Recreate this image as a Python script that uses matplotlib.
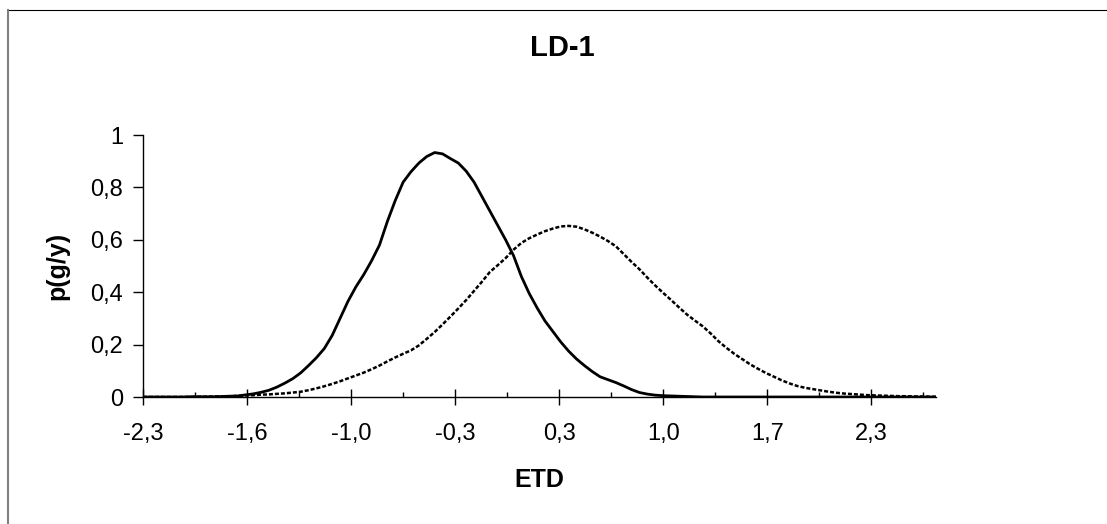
import numpy as np
import matplotlib.pyplot as plt
from matplotlib.lines import Line2D

plt.rcParams['font.family'] = ['Liberation Sans', 'DejaVu Sans']

# ETD grid and the two group densities p(g/y)
etd = [-2.30, -2.25, -2.20, -2.15, -2.10, -2.05, -2.00, -1.95, -1.90, -1.85,
       -1.80, -1.75, -1.70, -1.65, -1.60, -1.55, -1.50, -1.45, -1.40, -1.35,
       -1.30, -1.25, -1.20, -1.15, -1.10, -1.05, -1.00, -0.95, -0.90, -0.85,
       -0.80, -0.75, -0.70, -0.65, -0.60, -0.55, -0.50, -0.45, -0.40, -0.35,
       -0.30, -0.25, -0.20, -0.15, -0.10, -0.05, 0.00, 0.05, 0.10, 0.15,
       0.20, 0.25, 0.30, 0.35, 0.40, 0.45, 0.50, 0.55, 0.60, 0.65,
       0.70, 0.75, 0.80, 0.85, 0.90, 0.95, 1.00, 1.05, 1.10, 1.15,
       1.20, 1.25, 1.30, 1.35, 1.40, 1.45, 1.50, 1.55, 1.60, 1.65,
       1.70, 1.75, 1.80, 1.85, 1.90, 1.95, 2.00, 2.05, 2.10, 2.15,
       2.20, 2.25, 2.30, 2.35, 2.40, 2.45, 2.50, 2.55, 2.60, 2.65,
       2.70, 2.75]

group_1 = [0.0, 0.0, 0.0, 0.0, 0.0, 0.0, 0.001, 0.001, 0.001, 0.001,
           0.002, 0.003, 0.004, 0.008, 0.012, 0.018, 0.026, 0.038, 0.053, 0.070,
           0.092, 0.120, 0.150, 0.185, 0.235, 0.300, 0.365, 0.420, 0.467, 0.520,
           0.580, 0.670, 0.750, 0.820, 0.860, 0.893, 0.918, 0.933, 0.928, 0.910,
           0.893, 0.862, 0.820, 0.765, 0.710, 0.655, 0.600, 0.540, 0.460, 0.395,
           0.340, 0.290, 0.250, 0.210, 0.175, 0.145, 0.120, 0.097, 0.077, 0.066,
           0.055, 0.042, 0.028, 0.017, 0.011, 0.007, 0.005, 0.004, 0.003, 0.002,
           0.001, 0.0, 0.0, 0.0, 0.0, 0.0, 0.0, 0.0, 0.0, 0.0,
           0.0, 0.0, 0.0, 0.0, 0.0, 0.0, 0.0, 0.0, 0.0, 0.0,
           0.0, 0.0, 0.0, 0.0, 0.0, 0.0, 0.0, 0.0, 0.0, 0.0,
           0.0, 0.0]

group_2 = [0.0, 0.0, 0.0, 0.0, 0.0, 0.0, 0.0, 0.001, 0.001, 0.002,
           0.002, 0.003, 0.004, 0.006, 0.007, 0.009, 0.010, 0.012, 0.014, 0.017,
           0.020, 0.026, 0.033, 0.041, 0.050, 0.060, 0.071, 0.082, 0.093, 0.106,
           0.120, 0.136, 0.151, 0.165, 0.178, 0.197, 0.222, 0.248, 0.277, 0.307,
           0.338, 0.370, 0.405, 0.440, 0.477, 0.503, 0.530, 0.562, 0.588, 0.606,
           0.620, 0.633, 0.643, 0.651, 0.653, 0.650, 0.640, 0.627, 0.612, 0.595,
           0.575, 0.545, 0.515, 0.487, 0.455, 0.425, 0.397, 0.370, 0.342, 0.315,
           0.292, 0.270, 0.243, 0.213, 0.188, 0.165, 0.145, 0.125, 0.108, 0.092,
           0.078, 0.064, 0.052, 0.042, 0.035, 0.030, 0.025, 0.020, 0.016, 0.013,
           0.011, 0.009, 0.007, 0.006, 0.005, 0.004, 0.003, 0.003, 0.002, 0.002,
           0.001, 0.001]

x_first = -2.3
x_step = 0.66
x_end = 2.73

fig = plt.figure(figsize=(11.07, 5.24), dpi=100)
ax = fig.add_axes([143 / 1107, 127 / 524, 793 / 1107, 262 / 524])

ax.plot(etd, group_1, color='black', lw=2.0, solid_joinstyle='round', zorder=3)
ax.plot(etd, group_2, color='black', lw=1.8, linestyle=(0, (1.6, 0.8)), zorder=3)

ax.set_xlim(x_first, x_end)
ax.set_ylim(0, 1)

major = [x_first + x_step * i for i in range(8)]
minor = [x_first + x_step * (i + 0.5) for i in range(8)]
ax.set_xticks(major)
ax.set_xticklabels([f"{v:.1f}".replace('.', ',') for v in major])
ax.set_xticks(minor, minor=True)

yt = [0, 0.2, 0.4, 0.6, 0.8, 1.0]
ax.set_yticks(yt)
ax.set_yticklabels(['0', '0,2', '0,4', '0,6', '0,8', '1'])

ax.tick_params(axis='x', which='major', direction='inout', length=11.5, width=1,
               pad=13, labelsize=17)
ax.tick_params(axis='x', which='minor', direction='in', length=3.6, width=1)
ax.tick_params(axis='y', which='major', direction='out', length=7.2, width=1,
               pad=7, labelsize=17)

for side in ['top', 'right']:
    ax.spines[side].set_visible(False)
for side in ['left', 'bottom']:
    ax.spines[side].set_linewidth(1)

fig.text(562 / 1107, 1 - 48 / 524, 'LD-1', ha='center', va='center',
         fontsize=21, fontweight='bold')
fig.text(539 / 1107, 1 - 480 / 524, 'ETD', ha='center', va='center',
         fontsize=18, fontweight='bold')
fig.text(57 / 1107, 1 - 266 / 524, 'p(g/y)', ha='center', va='center',
         fontsize=18, fontweight='bold', rotation=90)

# chart area frame (open at right and bottom)
fig.add_artist(Line2D([8 / 1107, 1], [1 - 9.5 / 524, 1 - 9.5 / 524],
                      transform=fig.transFigure, color='black', lw=0.8))
fig.add_artist(Line2D([8 / 1107, 8 / 1107], [0, 1 - 9.5 / 524],
                      transform=fig.transFigure, color='#808080', lw=1.5))

fig.savefig('out.png', dpi=100)
